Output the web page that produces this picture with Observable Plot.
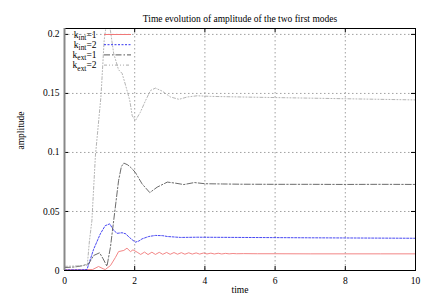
<!DOCTYPE html>
<html><head><meta charset="utf-8">
<script src="https://cdn.jsdelivr.net/npm/d3@7"></script>
<script src="https://cdn.jsdelivr.net/npm/@observablehq/plot@0.6"></script>
<style>
body{margin:0;background:#fff}
svg{display:block}
svg text{font-family:"Liberation Serif","Times New Roman",serif !important;}
</style>
</head><body><div id="chart"></div>
<script>
const title = "Time evolution of amplitude of the two first modes";
const xLabel = "time";
const yLabel = "amplitude";
const xTicks = [0, 2, 4, 6, 8, 10];
const yTicks = [0, 0.05, 0.1, 0.15, 0.2];
const yTickLabels = ["0", "0.05", "0.1", "0.15", "0.2"];
const legendBase = ["k", "k", "k", "k"];
const legendSub = ["int", "int", "ext", "ext"];
const legendSuffix = ["=1", "=2", "=1", "=2"];

// k_int = 1 (red, solid)
const kInt1T = [0, 0.5, 0.8, 0.97, 1.1, 1.16, 1.31, 1.45, 1.54, 1.69, 1.78, 1.88, 1.95, 2.07,
  2.17, 2.28, 2.38, 2.49, 2.59, 2.7, 2.8, 2.91, 3.01, 3.12, 3.22, 3.33, 3.43, 3.54, 3.64, 3.75,
  3.85, 3.96, 4.06, 4.17, 4.27, 4.38, 4.48, 4.59, 4.69, 4.8, 4.9, 5.1, 5.5, 6, 7, 8, 9, 10];
const kInt1A = [0.0006, 0.0006, 0.0008, 0.0034, 0.0015, 0.0008, 0.0042, 0.011, 0.016, 0.017, 0.0189, 0.016, 0.0175, 0.0155,
  0.0136, 0.0156, 0.0135, 0.0155, 0.0136, 0.0154, 0.0137, 0.0153, 0.0137, 0.0152, 0.0138, 0.0151, 0.0138, 0.015, 0.0139, 0.0149,
  0.0139, 0.0148, 0.014, 0.0147, 0.014, 0.0146, 0.014, 0.0145, 0.0141, 0.0144, 0.0142, 0.0143, 0.0142, 0.0142, 0.0141, 0.0141, 0.0141, 0.0141];

// k_int = 2 (blue, dotted)
const kInt2T = [0, 0.5, 0.64, 0.83, 1.02, 1.16, 1.29, 1.4, 1.5, 1.64, 1.75, 1.83, 1.93, 2.02, 2.12, 2.21, 2.4, 2.59, 2.8, 2.93, 3.31, 3.8, 5, 7, 10];
const kInt2A = [0.0005, 0.0006, 0.0008, 0.018, 0.031, 0.038, 0.0395, 0.034, 0.0315, 0.032, 0.031, 0.0285, 0.026, 0.024, 0.025, 0.0268, 0.0288, 0.0297, 0.0295, 0.0288, 0.028, 0.0282, 0.028, 0.0277, 0.0273];

// k_ext = 1 (dark grey, dash-dot)
const kExt1T = [0, 0.3, 0.5, 0.69, 0.83, 1.0, 1.1, 1.21, 1.31, 1.4, 1.54, 1.62, 1.69, 1.8, 1.9, 2.02, 2.21, 2.43, 2.64, 2.93, 3.16, 3.4, 3.7, 4.0, 4.5, 5, 6, 7, 8, 9, 10];
const kExt1A = [0.0025, 0.003, 0.004, 0.0057, 0.0127, 0.015, 0.0099, 0.0036, 0.02, 0.042, 0.076, 0.088, 0.091, 0.0895, 0.087, 0.083, 0.0734, 0.066, 0.0706, 0.0749, 0.074, 0.0728, 0.0745, 0.0735, 0.0733, 0.0731, 0.073, 0.073, 0.0729, 0.073, 0.0729];

// k_ext = 2 (light grey, dash-dot-dot)
const kExt2T = [0, 0.3, 0.55, 0.65, 0.71, 0.78, 0.88, 1.04, 1.13, 1.22, 1.31, 1.4, 1.54, 1.64, 1.73, 1.86, 1.93, 2.02, 2.16, 2.31, 2.45, 2.59, 2.78, 3.02, 3.26, 3.5, 3.78, 4.16, 5, 6, 7, 8, 9, 10];
const kExt2A = [0.0035, 0.0038, 0.0042, 0.0045, 0.025, 0.042, 0.097, 0.148, 0.195, 0.215, 0.203, 0.184, 0.17, 0.167, 0.158, 0.144, 0.131, 0.127, 0.134, 0.144, 0.1525, 0.1545, 0.152, 0.147, 0.145, 0.147, 0.148, 0.1475, 0.147, 0.1465, 0.146, 0.1455, 0.145, 0.1445];

const colors = ["#f07878", "#3434f0", "#5a5a5a", "#ababab"];
const dashes = [null, "2,1.5", "6,2,1.5,2", "3,2,1,2,1,2"];

const seriesT = [kInt1T, kInt2T, kExt1T, kExt2T];
const seriesA = [kInt1A, kInt2A, kExt1A, kExt2A];
const tables = seriesT.map((ts, s) => ts.map((t, i) => ({t, a: seriesA[s][i]})));

const W = 430, H = 301, mL = 64, mR = 15, mT = 28, mB = 31;
const fw = W - mL - mR, fh = H - mT - mB;
const font = "'Liberation Serif', 'Times New Roman', serif";

const lineMarks = tables.map((tab, s) => Plot.line(tab, {
  x: "t", y: "a", stroke: colors[s], strokeWidth: 0.9,
  strokeDasharray: dashes[s] || undefined, clip: true
}));

const plot = Plot.plot({
  width: W, height: H,
  marginLeft: mL, marginRight: mR, marginTop: mT, marginBottom: mB,
  style: {fontFamily: font, fontSize: "9.5px", background: "#fff", color: "#000"},
  x: {domain: [0, 10]},
  y: {domain: [0, 0.205]},
  marks: [
    Plot.ruleX(xTicks.slice(1, -1), {stroke: "#a0a0a0", strokeDasharray: "1.5,2.5"}),
    Plot.ruleY(yTicks.slice(1), {stroke: "#a0a0a0", strokeDasharray: "1.5,2.5"}),
    Plot.ruleY(yTicks, {stroke: "#000", insetRight: fw - 4}),
    Plot.ruleY(yTicks, {stroke: "#000", insetLeft: fw - 4}),
    Plot.ruleX(xTicks, {stroke: "#000", insetTop: fh - 4}),
    Plot.ruleX(xTicks, {stroke: "#000", insetBottom: fh - 4}),
    ...lineMarks,
    Plot.frame({stroke: "#000"}),
    Plot.ruleX([0], {stroke: "#888", strokeWidth: 2}),
    Plot.axisX({ticks: xTicks, tickSize: 0, tickPadding: 7, label: null, tickFormat: d => String(d)}),
    Plot.axisY({ticks: yTicks, tickSize: 0, tickPadding: 5, label: null, tickFormat: d => yTickLabels[yTicks.indexOf(d)]}),
    Plot.text([title], {frameAnchor: "top", dy: -13}),
    Plot.text([xLabel], {frameAnchor: "bottom", dy: 22}),
    Plot.text([yLabel], {frameAnchor: "left", dx: -44, rotate: -90})
  ]
});

// legend (top-left inside the frame)
const svg = d3.select(plot);
const g = svg.append("g").attr("font-family", font).attr("font-size", 9.5).attr("fill", "#000");
legendBase.forEach((b, i) => {
  const y = mT + 6.5 + i * 10.2;
  const txt = g.append("text").attr("x", mL + 32.5).attr("y", y + 3).attr("text-anchor", "end");
  txt.append("tspan").text(b);
  txt.append("tspan").attr("font-size", 7.4).attr("dy", 2.5).text(legendSub[i]);
  txt.append("tspan").attr("dy", -2.5).text(legendSuffix[i]);
  const ln = g.append("line").attr("x1", mL + 40).attr("x2", mL + 67)
    .attr("y1", y).attr("y2", y).attr("stroke", colors[i]).attr("stroke-width", 1);
  if (dashes[i]) ln.attr("stroke-dasharray", dashes[i]);
});

document.getElementById("chart").appendChild(plot);
</script>
</body></html>
